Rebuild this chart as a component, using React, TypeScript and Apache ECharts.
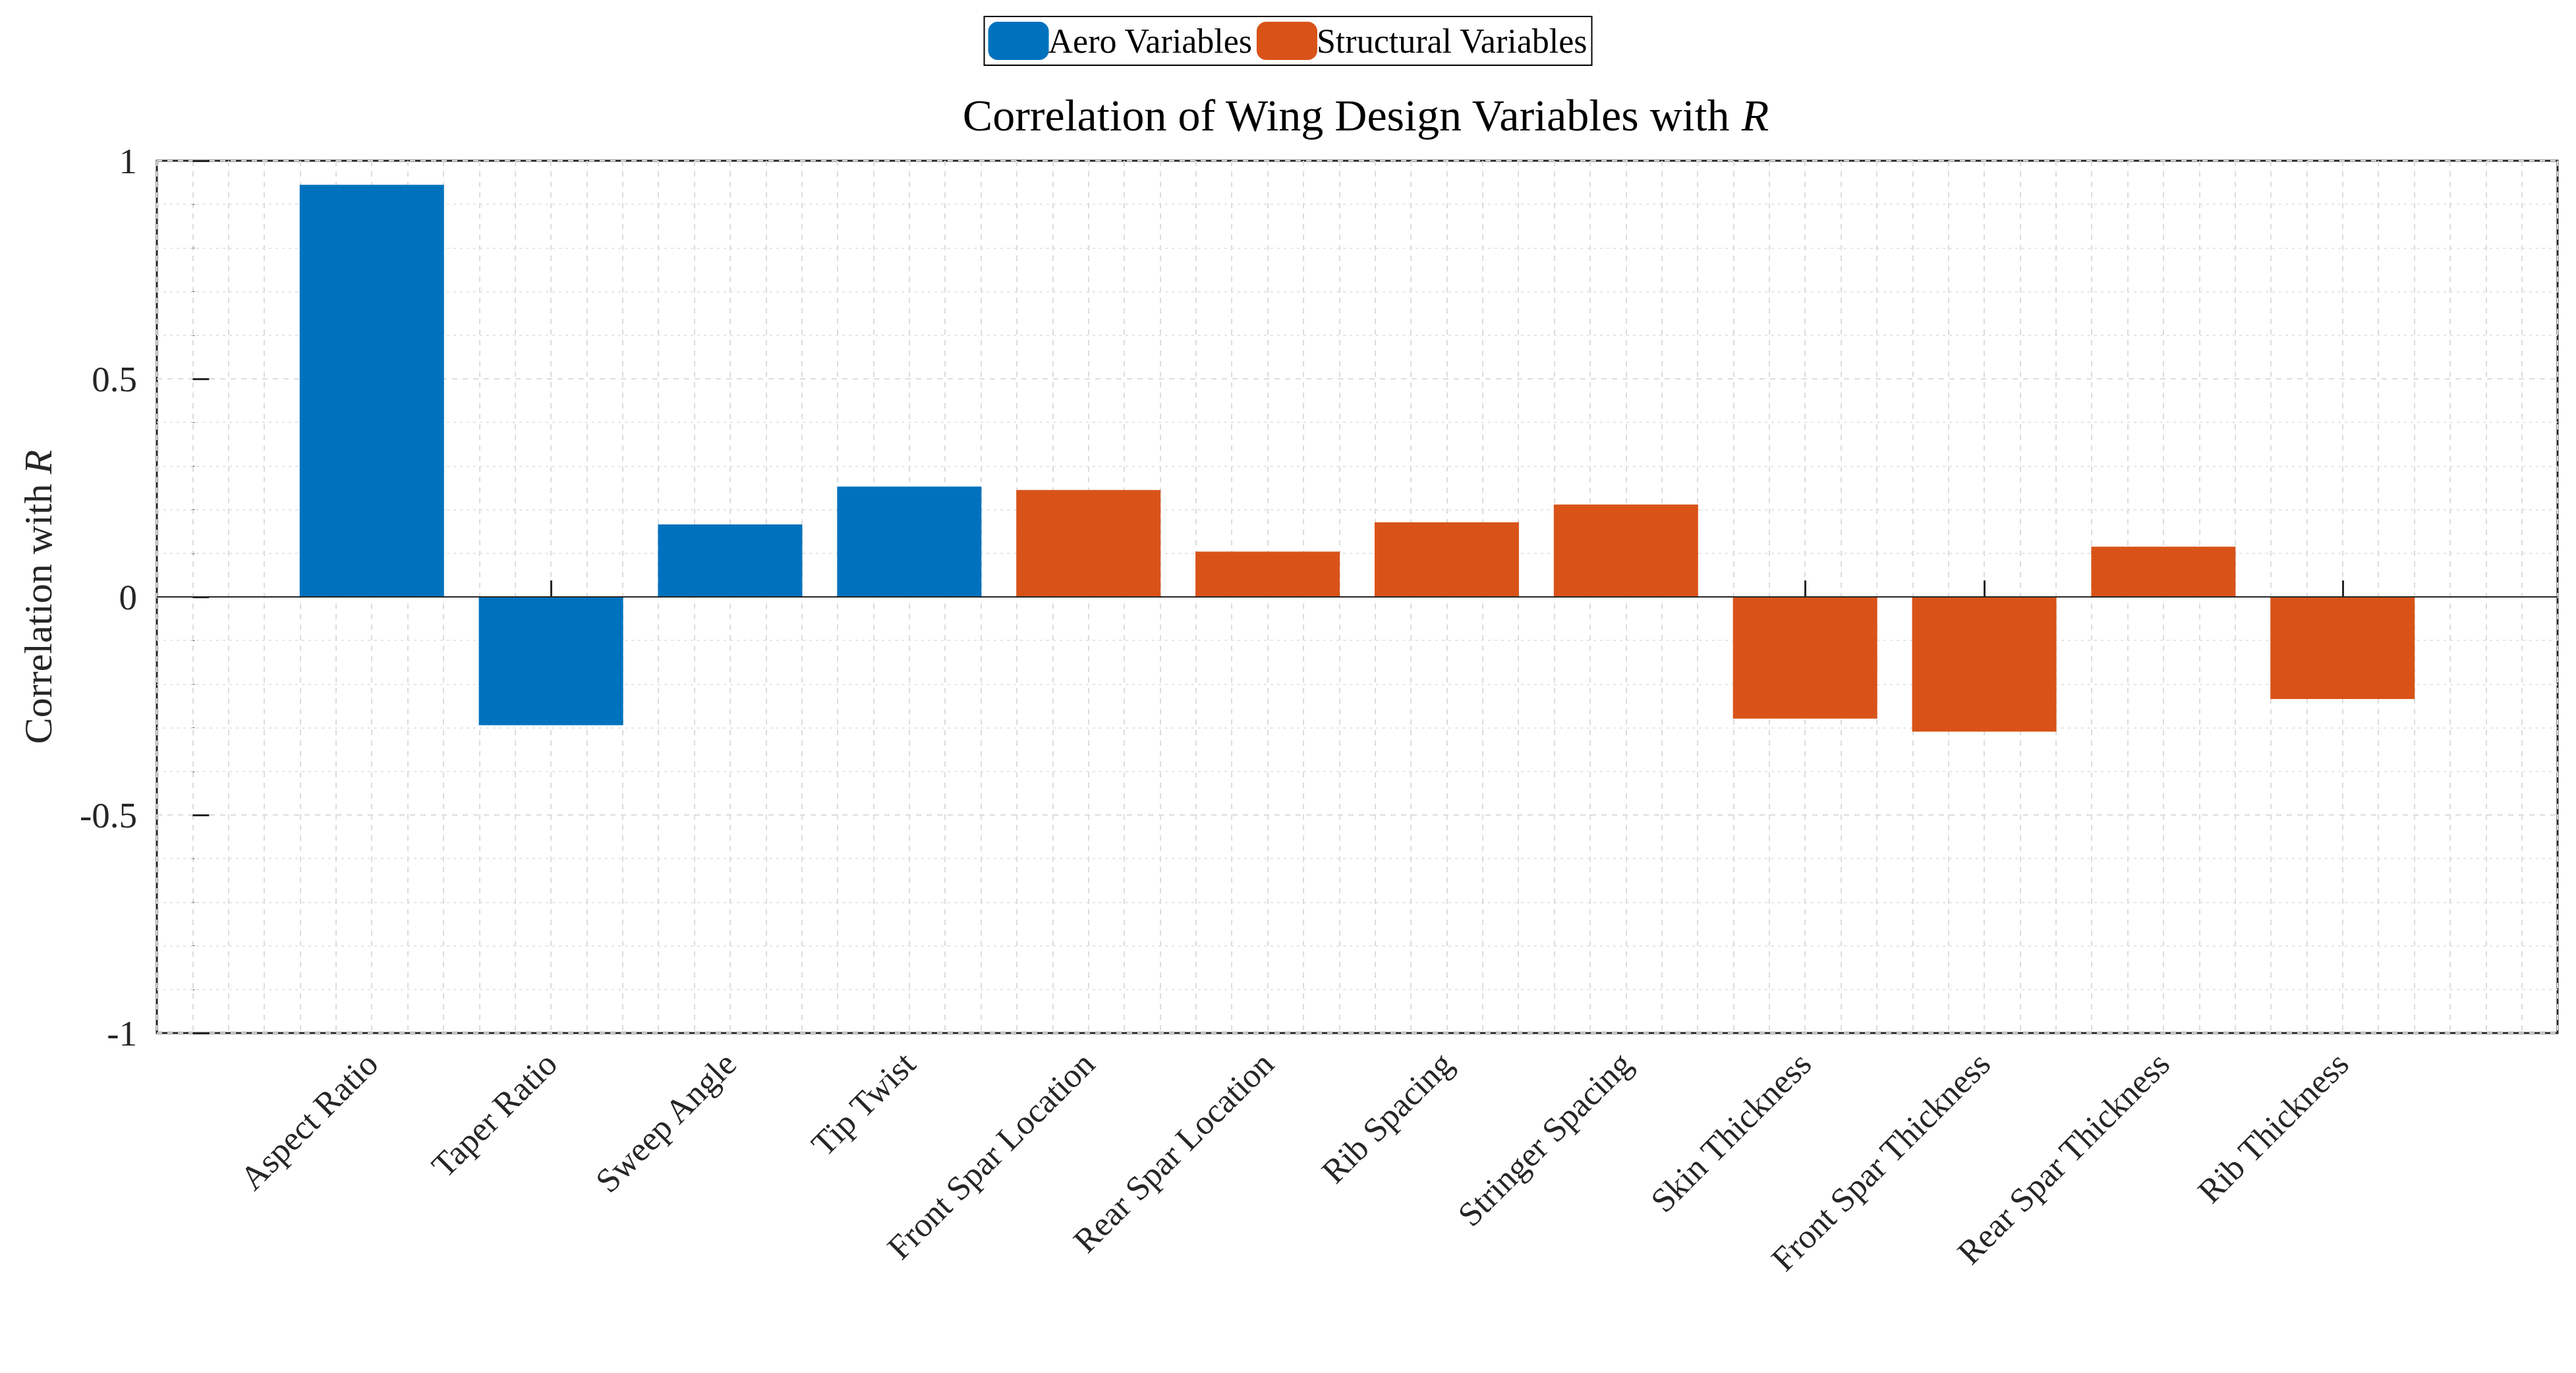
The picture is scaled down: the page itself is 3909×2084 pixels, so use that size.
import React, { useEffect, useRef } from "react";
import * as echarts from "echarts";

const categories = ["Aspect Ratio", "Taper Ratio", "Sweep Angle", "Tip Twist", "Front Spar Location", "Rear Spar Location", "Rib Spacing", "Stringer Spacing", "Skin Thickness", "Front Spar Thickness", "Rear Spar Thickness", "Rib Thickness"];
const aeroValues = [0.945, -0.294, 0.166, 0.253];
const structValues = [0.245, 0.104, 0.171, 0.212, -0.279, -0.309, 0.115, -0.234];
const yTicks = [-1, -0.5, 0, 0.5, 1];

const FONT = "Liberation Serif";

export default function App() {
  const ref = useRef<HTMLDivElement>(null);
  useEffect(() => {
    const chart = echarts.init(ref.current!, null, { renderer: "svg" });
    const aeroData = aeroValues.map((v, i) => [i + 1, v]);
    const structData = structValues.map((v, i) => [i + 1 + aeroValues.length, v]);
    const catIdx = categories.map((_, i) => i + 1);
    chart.setOption({
      animation: false,
      backgroundColor: "#fff",
      title: {
        text: "Correlation of Wing Design Variables with {i|R}",
        left: 2059, top: 128, textAlign: "center",
        textStyle: { fontFamily: FONT, fontSize: 68, fontWeight: "normal", color: "#000",
          rich: { i: { fontFamily: FONT, fontSize: 68, fontStyle: "italic", color: "#000" } } },
      },
      legend: {
        top: 17, left: "center",
        data: ["Aero Variables", "Structural Variables"],
        itemWidth: 92, itemHeight: 58, itemGap: 6,
        borderColor: "#000", borderWidth: 2, padding: [8, 6, 8, 6],
        textStyle: { fontFamily: FONT, fontSize: 52, color: "#000", padding: [0, 0, 0, -6] },
      },
      grid: { left: 230, right: 20, top: 236, bottom: 508, show: true, borderColor: "#262626", borderWidth: 3, containLabel: false },
      xAxis: [
        {
          type: "value", min: -0.2, max: 13.2,
          axisLine: { show: false },
          axisTick: { show: true, customValues: catIdx, inside: true, length: 25, lineStyle: { color: "#262626", width: 3 } },
          axisLabel: {
            customValues: catIdx, rotate: 45, margin: 38, fontFamily: FONT, fontSize: 52, color: "#262626",
            formatter: (v: number) => categories[Math.round(v) - 1] ?? "",
          },
          splitLine: { show: false },
        },
        {
          type: "value", min: -0.2, max: 13.2, interval: 0.2, position: "bottom",
          axisLine: { show: false }, axisTick: { show: false }, axisLabel: { show: false },
          splitLine: { show: true, lineStyle: { color: "#dcdcdc", width: 2, type: [8, 8] } },
        },
      ],
      yAxis: {
        type: "value", min: -1, max: 1, interval: 0.5,
        name: "Correlation with {i|R}", nameLocation: "middle", nameGap: 150, nameRotate: 90,
        nameTextStyle: { fontFamily: FONT, fontSize: 60, color: "#262626",
          rich: { i: { fontFamily: FONT, fontSize: 60, fontStyle: "italic", color: "#262626" } } },
        axisLine: { show: false },
        axisTick: { show: true, inside: true, length: 25, lineStyle: { color: "#262626", width: 3 } },
        axisLabel: { fontFamily: FONT, fontSize: 55, color: "#262626", margin: 30,
          formatter: (v: number) => (yTicks.includes(v) ? String(v) : "") },
        splitLine: { show: true, lineStyle: { color: "#dcdcdc", width: 2, type: [8, 8] } },
        minorTick: { show: true, splitNumber: 5 },
        minorSplitLine: { show: true, lineStyle: { color: "#e6e6e6", width: 2, type: [4, 6] } },
      },
      series: [
        {
          name: "Aero Variables", type: "bar", data: aeroData, barWidth: 219, barGap: "-100%",
          itemStyle: { color: "#0072BD" }, xAxisIndex: 0,
          markLine: { silent: true, symbol: "none", label: { show: false },
            lineStyle: { color: "#262626", width: 2, type: "solid" }, data: [{ yAxis: 0 }] },
        },
        {
          name: "Structural Variables", type: "bar", data: structData, barWidth: 219, barGap: "-100%",
          itemStyle: { color: "#D95319" }, xAxisIndex: 0,
        },
      ],
    });
    return () => chart.dispose();
  }, []);
  return <div ref={ref} style={{ width: 3893, height: 2068 }} />;
}
